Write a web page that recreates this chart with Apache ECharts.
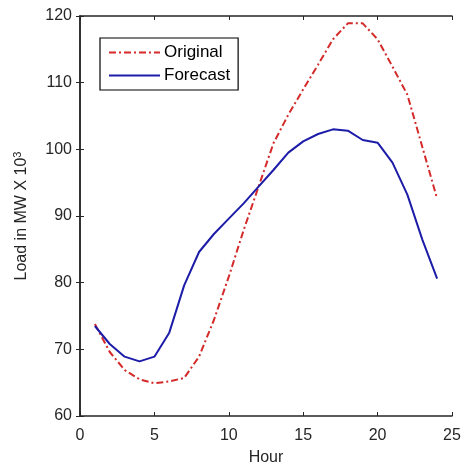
<!DOCTYPE html>
<html>
<head>
<meta charset="utf-8">
<script src="https://cdn.jsdelivr.net/npm/echarts@6/dist/echarts.min.js"></script>
<style>
  html, body { margin: 0; padding: 0; background: #fff; }
  #chart { width: 464px; height: 464px; }
</style>
</head>
<body>
<div id="chart"></div>
<script>
// hours 1..24
const hours = [1, 2, 3, 4, 5, 6, 7, 8, 9, 10, 11, 12, 13, 14, 15, 16, 17, 18, 19, 20, 21, 22, 23, 24];
const original = [73.8, 69.6, 66.9, 65.5, 64.9, 65.2, 65.7, 68.9, 74.4, 80.9, 87.9, 94.4,
    100.9, 105.2, 109.0, 112.7, 116.5, 118.9, 118.9, 116.5, 112.4, 108.2, 100.4, 92.6];
const forecast = [73.5, 70.8, 68.9, 68.2, 68.9, 72.5, 79.6, 84.6, 87.3, 89.6, 91.9, 94.4,
    96.9, 99.5, 101.2, 102.3, 103.0, 102.8, 101.4, 101.0, 98.0, 93.2, 86.5, 80.6];

const font = 'Liberation Sans, Arial, sans-serif';
const axisColor = '#262626';

function pairs(ys) {
    return hours.map((h, i) => [h, ys[i]]);
}

const chart = echarts.init(document.getElementById('chart'));

const hiddenAxis = {
    axisLine: { show: true, lineStyle: { color: axisColor, width: 1.5 } },
    axisTick: { show: true, inside: true, length: 4, lineStyle: { color: axisColor } },
    axisLabel: { show: false },
    splitLine: { show: false }
};

chart.setOption({
    animation: false,
    backgroundColor: '#fff',
    grid: { left: 80, right: 12, top: 16, bottom: 48, outerBoundsMode: 'none', containLabel: false },
    legend: {
        orient: 'vertical',
        left: 100,
        top: 38,
        padding: [6, 8, 6, 8],
        itemGap: 6,
        itemWidth: 51,
        itemHeight: 14,
        borderColor: '#000',
        borderWidth: 1.2,
        backgroundColor: '#fff',
        itemStyle: { opacity: 0 },
        textStyle: { fontFamily: font, fontSize: 17, color: '#000', padding: [0, 0, 0, -1] },
        data: ['Original', 'Forecast']
    },
    xAxis: [{
        type: 'value',
        min: 0, max: 25, interval: 5,
        name: 'Hour',
        nameLocation: 'middle',
        nameGap: 34,
        nameTextStyle: { fontFamily: font, fontSize: 16, color: axisColor },
        axisLine: { show: true, onZero: false, lineStyle: { color: axisColor, width: 1.5 } },
        axisTick: { show: true, inside: true, length: 4, lineStyle: { color: axisColor } },
        axisLabel: { fontFamily: font, fontSize: 16, color: axisColor, margin: 12 },
        splitLine: { show: false }
    }, Object.assign({
        type: 'value', position: 'top', min: 0, max: 25, interval: 5
    }, hiddenAxis)],
    yAxis: [{
        type: 'value',
        min: 60, max: 120, interval: 10,
        name: '{n|Load in MW X 10}{s|3}',
        nameLocation: 'middle',
        nameGap: 48,
        nameTextStyle: {
            rich: {
                n: { fontFamily: font, fontSize: 16, color: axisColor },
                s: { fontFamily: font, fontSize: 11, color: axisColor, verticalAlign: 'top', padding: [0, 0, 9, 0] }
            }
        },
        axisLine: { show: true, onZero: false, lineStyle: { color: axisColor, width: 1.5 } },
        axisTick: { show: true, inside: true, length: 4, lineStyle: { color: axisColor } },
        axisLabel: { fontFamily: font, fontSize: 16, color: axisColor, margin: 8 },
        splitLine: { show: false }
    }, Object.assign({
        type: 'value', position: 'right', min: 60, max: 120, interval: 10
    }, hiddenAxis)],
    series: [{
        name: 'Original',
        type: 'line',
        data: pairs(original),
        symbol: 'none',
        color: '#d42a2a',
        lineStyle: { width: 2, color: '#d42a2a', type: [7, 3, 2, 3] }
    }, {
        name: 'Forecast',
        type: 'line',
        data: pairs(forecast),
        symbol: 'none',
        color: '#1c1ca8',
        lineStyle: { width: 2, color: '#1c1ca8', type: 'solid' }
    }]
});
</script>
</body>
</html>
